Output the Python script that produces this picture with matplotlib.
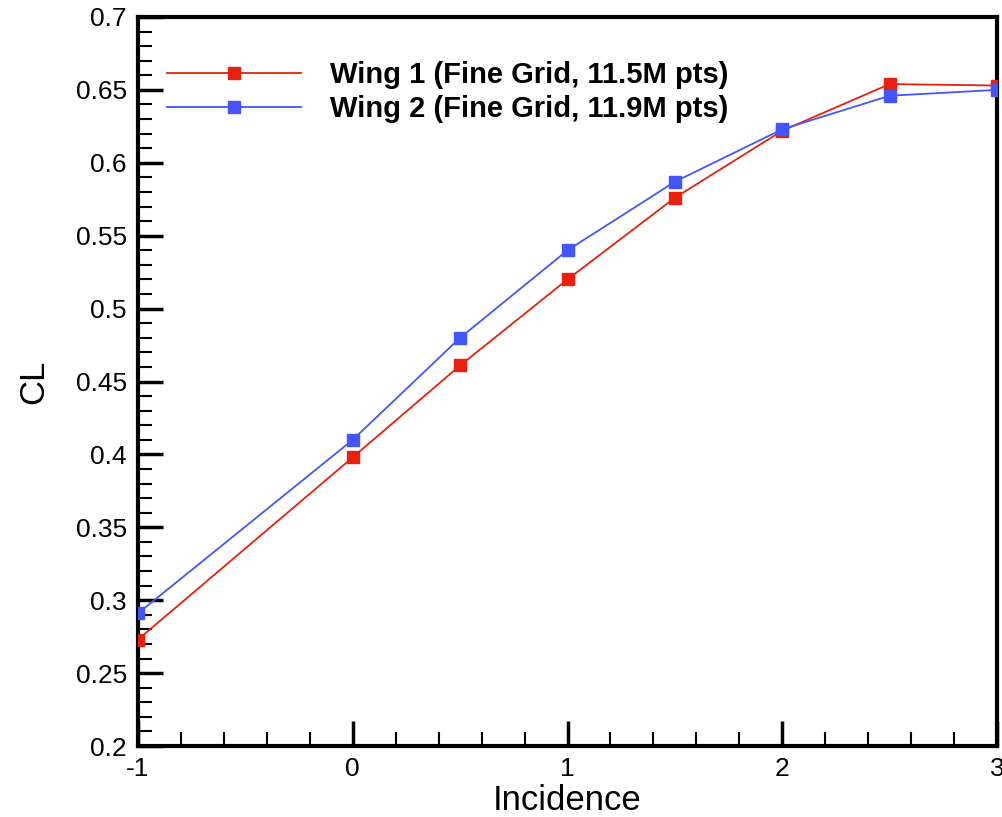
"""
Lift coefficient vs incidence for the two fine-grid wings.
"""

import matplotlib

matplotlib.use("Agg")
import matplotlib.pyplot as plt  # noqa: E402
from matplotlib.ticker import MultipleLocator  # noqa: E402

incidence = [-1, 0, 0.5, 1, 1.5, 2, 2.5, 3]
cl_wing1 = [0.273, 0.398, 0.461, 0.520, 0.576, 0.622, 0.654, 0.653]
cl_wing2 = [0.291, 0.410, 0.480, 0.540, 0.587, 0.623, 0.646, 0.650]
labels = [
    "Wing 1 (Fine Grid, 11.5M pts)",
    "Wing 2 (Fine Grid, 11.9M pts)",
]

plt.rcParams["font.family"] = ["Liberation Sans", "DejaVu Sans"]
plt.rcParams["axes.unicode_minus"] = False

fig = plt.figure(figsize=(10.02, 8.17), dpi=100)
ax = fig.add_axes([138 / 1002, 1 - 746 / 817, (997 - 138) / 1002, (746 - 17) / 817])

ax.plot(incidence, cl_wing1, color="#e8200c", marker="s", markersize=9,
        linewidth=1.3, label=labels[0], zorder=3)
ax.plot(incidence, cl_wing2, color="#4455ff", marker="s", markersize=9,
        linewidth=1.3, label=labels[1], zorder=3)

ax.set_xlim(-1, 3)
ax.set_ylim(0.2, 0.7)
ax.xaxis.set_major_locator(MultipleLocator(1))
ax.xaxis.set_minor_locator(MultipleLocator(0.2))
ax.yaxis.set_minor_locator(MultipleLocator(0.01))
ax.set_yticks([0.2, 0.25, 0.3, 0.35, 0.4, 0.45, 0.5, 0.55, 0.6, 0.65, 0.7])
ax.set_yticklabels(["0.2", "0.25", "0.3", "0.35", "0.4", "0.45", "0.5",
                    "0.55", "0.6", "0.65", "0.7"])
ax.tick_params(which="major", direction="in", length=18, width=2.5,
               labelsize=19, pad=8)
ax.tick_params(which="minor", direction="in", length=10, width=1.5)
ax.tick_params(top=False, right=False, which="both")
for side in ax.spines.values():
    side.set_linewidth(3)

ax.set_xlabel("Incidence", fontsize=25, labelpad=2)
ax.set_ylabel("CL", fontsize=25, labelpad=18)

ax.legend(loc="upper left", bbox_to_anchor=(0.02, 0.955), frameon=False,
          prop={"size": 21, "weight": "bold"}, handlelength=4.6,
          handletextpad=1.0, labelspacing=0.2, borderaxespad=0)

fig.savefig("out.png", dpi=100)
plt.close(fig)
